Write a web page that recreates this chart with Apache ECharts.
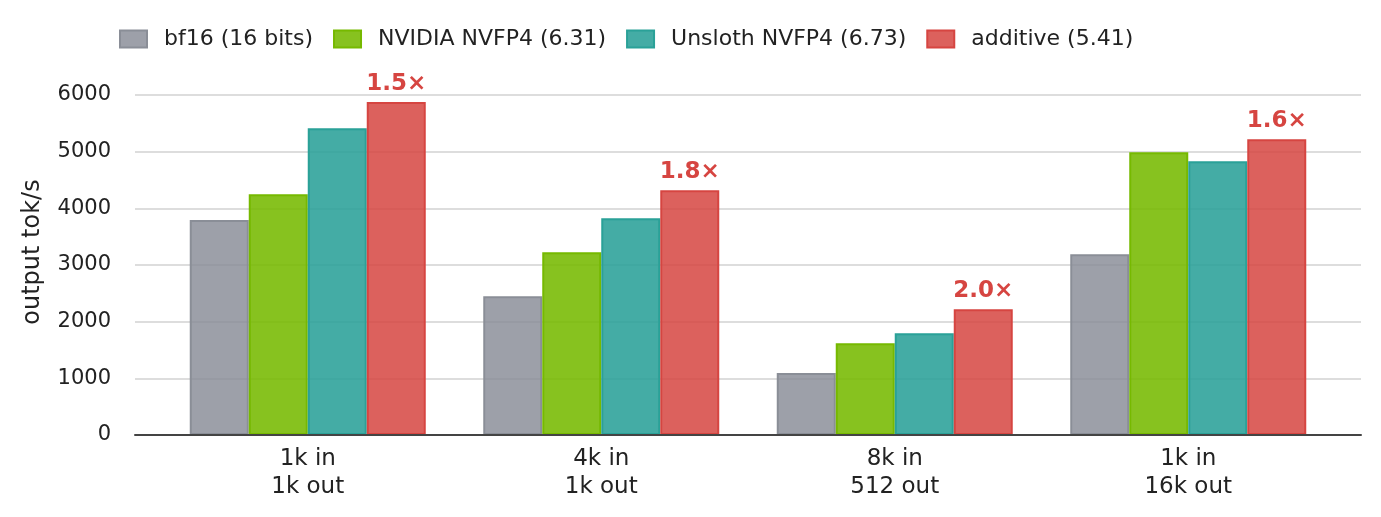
<!DOCTYPE html>
<html>
<head>
<meta charset="utf-8">
<script src="https://cdn.jsdelivr.net/npm/echarts@6/dist/echarts.min.js"></script>
<style>
  html, body { margin: 0; padding: 0; background: #fff; }
  #chart { width: 1381px; height: 517px; }
</style>
</head>
<body>
<div id="chart"></div>
<script>
// workloads
const categories = ['1k in\n1k out', '4k in\n1k out', '8k in\n512 out', '1k in\n16k out']
const seriesNames = ['bf16 (16 bits)', 'NVIDIA NVFP4 (6.31)', 'Unsloth NVFP4 (6.73)', 'additive (5.41)']
const bf16 = [3795, 2450, 1095, 3190]
const nvidia = [4250, 3225, 1620, 4990]
const unsloth = [5415, 3825, 1795, 4830]
const additive = [5875, 4320, 2220, 5220]
const speedups = ['1.5×', '1.8×', '2.0×', '1.6×']
const yTicks = [0, 1000, 2000, 3000, 4000, 5000, 6000]

const fills = ['rgba(135,139,150,0.82)', 'rgba(118,185,0,0.88)', 'rgba(42,161,152,0.88)', 'rgba(214,69,65,0.85)']
const borders = ['#8a8e97', '#76b900', '#2aa198', '#d64541']
const font = 'DejaVu Sans'

const myChart = echarts.init(document.getElementById('chart'))

function makeSeries(name, data, i) {
  let s = {
    name: name,
    type: 'bar',
    xAxisIndex: 0,
    yAxisIndex: 0,
    data: data,
    barWidth: 59,
    barGap: '0%',
    itemStyle: {
      color: fills[i],
      borderColor: borders[i],
      borderWidth: 2
    }
  }
  if (i === 3) {
    s.label = {
      show: true,
      position: 'top',
      distance: 7,
      fontFamily: font,
      fontWeight: 'bold',
      fontSize: 23,
      color: '#d64541',
      formatter: (p) => speedups[p.dataIndex]
    }
  }
  return s
}

let option = {
  animation: false,
  textStyle: { fontFamily: font },
  legend: {
    left: 114,
    top: 23,
    icon: 'rect',
    itemWidth: 27,
    itemHeight: 17,
    itemGap: 20,
    itemStyle: { borderWidth: 2 },
    textStyle: { fontFamily: font, fontSize: 22, color: '#222', padding: [0, 0, 0, 12] },
    data: seriesNames
  },
  grid: [
    // bars: matplotlib keeps a margin inside the axes
    { left: 161, right: 46, top: 95, bottom: 82 },
    // frame: gridlines, tick labels and baseline span the full axes
    { left: 135, right: 20, top: 95, bottom: 82 }
  ],
  xAxis: [
    {
      type: 'category',
      gridIndex: 0,
      data: categories,
      axisTick: { show: false },
      axisLine: { show: false },
      axisLabel: {
        fontFamily: font,
        fontSize: 23,
        color: '#222',
        lineHeight: 28,
        margin: 10
      }
    },
    {
      type: 'value',
      gridIndex: 1,
      min: 0,
      max: 1,
      z: 5,
      axisTick: { show: false },
      axisLabel: { show: false },
      splitLine: { show: false },
      axisLine: { lineStyle: { color: '#444', width: 2 } }
    }
  ],
  yAxis: [
    {
      type: 'value',
      gridIndex: 0,
      min: 0,
      max: 6000,
      show: false,
      splitLine: { show: false }
    },
    {
      type: 'value',
      gridIndex: 1,
      min: yTicks[0],
      max: yTicks[yTicks.length - 1],
      interval: 1000,
      name: 'output tok/s',
      nameLocation: 'middle',
      nameGap: 90,
      nameTextStyle: { fontFamily: font, fontSize: 24, color: '#222', padding: [0, 0, 0, 26] },
      axisLine: { show: false },
      axisTick: { show: false },
      axisLabel: {
        fontFamily: font,
        fontSize: 21,
        color: '#222',
        margin: 24,
        padding: [4, 0, 0, 0],
        formatter: (v) => String(v)
      },
      splitLine: { lineStyle: { color: '#dddddd', width: 2 } }
    }
  ],
  series: [
    makeSeries(seriesNames[0], bf16, 0),
    makeSeries(seriesNames[1], nvidia, 1),
    makeSeries(seriesNames[2], unsloth, 2),
    makeSeries(seriesNames[3], additive, 3)
  ]
}
myChart.setOption(option)
</script>
</body>
</html>
